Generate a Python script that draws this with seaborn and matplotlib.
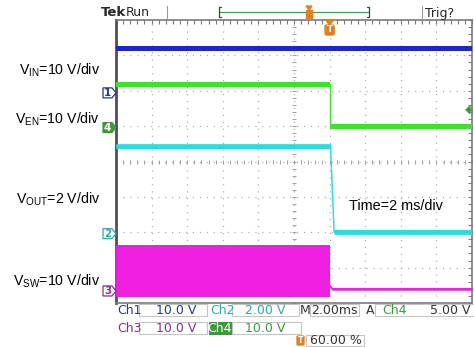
import numpy as np
import pandas as pd
import matplotlib
matplotlib.use("Agg")
import matplotlib.pyplot as plt
from matplotlib.patches import Polygon, Rectangle, FancyBboxPatch
from matplotlib.lines import Line2D
from matplotlib.transforms import blended_transform_factory
import seaborn as sns

# ---------------- data (volts vs. milliseconds, trigger at t = 0) ----------------
vin_t = [-12.0, 8.0]
vin_v = [12.5, 12.5]

ven_t = [-12.0, 0.0, 0.0, 8.0]
ven_v = [12.3, 12.3, 0.2, 0.2]

vout_t = [-12.0, 0.05, 0.25, 8.0]
vout_v = [4.95, 4.95, 0.1, 0.1]

vsw_burst_t = [-12.0, 0.0]
vsw_burst_hi = [13.0, 13.0]
vsw_burst_lo = [-1.7, -1.7]
vsw_t = [0.0, 0.15, 8.0]
vsw_v = [1.5, 0.6, 0.6]

# channel settings
ch_names = ["Ch1", "Ch2", "Ch3", "Ch4"]
ch_volts_per_div = [10.0, 2.0, 10.0, 10.0]
ch_ground_div = [5.94, 1.96, 0.34, 4.96]
trig_level_v = 5.0          # on Ch4
trig_pos_pct = 60.0
time_per_div_ms = 2.0
ch_labels = [r"V$_{\mathregular{IN}}$=10 V/div", r"V$_{\mathregular{EN}}$=10 V/div",
             r"V$_{\mathregular{OUT}}$=2 V/div", r"V$_{\mathregular{SW}}$=10 V/div"]
time_label = "Time=2 ms/div"

# ---------------- styling ----------------
sns.set_style("white")
plt.rcParams["font.family"] = ["DejaVu Sans"]
plt.rcParams["lines.scale_dashes"] = False

col_ch1 = "#1a28c8"
col_ch2 = "#2adbe0"
col_ch3 = "#f01ee0"
col_ch4 = "#3ce22e"
txt_ch1 = "#2a3a7a"
txt_ch2 = "#3aa4aa"
txt_ch3 = "#8a2f8a"
txt_ch4 = "#3a9a3a"
orange = "#e2801e"

W, H = 474, 347
fig = plt.figure(figsize=(W / 100, H / 100), dpi=100)
fig.patch.set_facecolor("white")


def fx(x):
    return x / W


def fy(y):
    return 1 - y / H


# graticule window in pixels
L, R, T, B = 116, 472, 20, 303
ax = fig.add_axes([fx(L), fy(B), (R - L) / W, (B - T) / H])
t0 = -trig_pos_pct / 100 * 10 * time_per_div_ms
ax.set_xlim(t0, t0 + 10 * time_per_div_ms)
ax.set_ylim(0, 8)
ax.set_facecolor("white")

# graticule
grid_kw = dict(color="#a8a8a8", lw=0.9, dashes=(0.8, 4.2), zorder=1)
for k in range(1, 10):
    ax.axvline(t0 + k * time_per_div_ms, **grid_kw)
for k in range(1, 8):
    ax.axhline(k, **grid_kw)
xc = t0 + 5 * time_per_div_ms
cx = np.arange(t0, t0 + 10 * time_per_div_ms + 0.01, time_per_div_ms / 5)
cy = np.arange(0, 8.01, 0.2)
ax.plot(cx, np.full_like(cx, 4.0), ls="", marker="|", ms=3.5, mew=0.7, color="#a0a0a0", zorder=1)
ax.plot(np.full_like(cy, xc), cy, ls="", marker="_", ms=3.5, mew=0.7, color="#a0a0a0", zorder=1)

ax.xaxis.set_major_locator(plt.MultipleLocator(time_per_div_ms))
ax.xaxis.set_minor_locator(plt.MultipleLocator(time_per_div_ms / 5))
ax.yaxis.set_major_locator(plt.MultipleLocator(1))
ax.yaxis.set_minor_locator(plt.MultipleLocator(0.2))
ax.tick_params(which="both", direction="in", length=3, width=0.8, color="#7a7a7a",
               top=True, right=True, labelbottom=False, labelleft=False)
for s in ax.spines.values():
    s.set_color("#7a7a7a")
    s.set_linewidth(1.2)
ax.spines["left"].set_color("#505050")
ax.spines["left"].set_linewidth(2.0)


def to_div(ch, volts):
    i = ch_names.index(ch)
    return ch_ground_div[i] + np.asarray(volts, dtype=float) / ch_volts_per_div[i]


def draw_trace(ch, t, v, color, half):
    y = to_div(ch, v)
    ax.fill_between(t, y - half, y + half, color=color, lw=0, zorder=3)
    df = pd.DataFrame({"t": t, "y": y})
    sns.lineplot(data=df, x="t", y="y", color=color, lw=1.0, sort=False,
                 estimator=None, ax=ax, zorder=3)


draw_trace("Ch1", vin_t, vin_v, col_ch1, 0.065)
draw_trace("Ch4", ven_t, ven_v, col_ch4, 0.07)
draw_trace("Ch2", vout_t, vout_v, col_ch2, 0.07)
ax.fill_between(vsw_burst_t, to_div("Ch3", vsw_burst_lo), to_div("Ch3", vsw_burst_hi),
                color=col_ch3, lw=0, zorder=3)
draw_trace("Ch3", vsw_t, vsw_v, col_ch3, 0.04)
ax.set_xlabel("")
ax.set_ylabel("")

# ground reference markers
bt = blended_transform_factory(ax.transAxes, ax.transData)
sx = 1 / (R - L)
sy = 8 / (B - T)
marker_style = {
    "Ch1": ("white", txt_ch1, txt_ch1),
    "Ch2": ("white", txt_ch2, txt_ch2),
    "Ch3": ("white", txt_ch3, txt_ch3),
    "Ch4": (txt_ch4, txt_ch4, "white"),
}
for i, ch in enumerate(ch_names):
    g = ch_ground_div[i]
    face, edge, tc = marker_style[ch]
    pts = [(-13 * sx, g + 5 * sy), (-4 * sx, g + 5 * sy), (0, g),
           (-4 * sx, g - 5 * sy), (-13 * sx, g - 5 * sy)]
    ax.add_patch(Polygon(pts, closed=True, transform=bt, clip_on=False,
                         facecolor=face, edgecolor=edge, lw=0.9, zorder=6))
    ax.text(-8.5 * sx, g, ch[-1], transform=bt, ha="center", va="center",
            fontsize=7.5, color=tc, fontweight="bold", clip_on=False, zorder=7)

# trigger level marker (right edge)
yt = to_div("Ch4", trig_level_v)
ax.add_patch(Polygon([(1 - 6 * sx, yt), (1 - 2 * sx, yt + 3.5 * sy), (1 - 2 * sx, yt - 3.5 * sy)],
                     closed=True, transform=bt, clip_on=False, color=txt_ch4, zorder=6))
ax.plot([1 - 3 * sx, 1 - 0.5 * sx], [yt, yt], transform=bt, color=txt_ch4, lw=1.2,
        clip_on=False, zorder=6)

# trigger position marker (top of graticule)
tx = L + (0 - t0) / (10 * time_per_div_ms) * (R - L)
fig.patches.append(Polygon([(fx(tx - 4), fy(20)), (fx(tx + 4), fy(20)), (fx(tx), fy(25))],
                           closed=True, transform=fig.transFigure, color=orange, zorder=8))
fig.patches.append(FancyBboxPatch((fx(tx - 4.5), fy(35)), 9 / W, 10 / H,
                                  boxstyle="round,pad=0,rounding_size=0.004",
                                  transform=fig.transFigure, color=orange, zorder=8))
fig.text(fx(tx), fy(30), "T", ha="center", va="center", fontsize=6.5, color="white",
         fontweight="bold", zorder=9)

# channel labels
for lab, ypx in zip(ch_labels, [70, 119, 199, 281]):
    fig.text(fx(100), fy(ypx), lab, ha="right", va="center", fontsize=10.2,
             family=["Liberation Sans", "DejaVu Sans"], color="black")
fig.text(fx(349), fy(206), time_label, ha="left", va="center", fontsize=10.4,
         family=["Liberation Sans", "DejaVu Sans"], color="black")

# status bar
fig.text(fx(101), fy(13), "Tek", ha="left", va="center", fontsize=9.5, fontweight="bold")
fig.text(fx(126), fy(13), "Run", ha="left", va="center", fontsize=9)
fig.text(fx(425), fy(13), "Trig?", ha="left", va="center", fontsize=9)


def fline(xs, ys, **kw):
    fig.lines.append(Line2D([fx(x) for x in xs], [fy(y) for y in ys],
                            transform=fig.transFigure, **kw))


fline([167, 167], [6, 18], color="#9a9a9a", lw=0.8)
fline([422, 422], [6, 18], color="#9a9a9a", lw=0.8)
fline([219, 369], [12, 12], color="#4a9a4a", lw=0.9)
fline([221, 219, 219, 221], [7, 7, 17, 17], color="#404040", lw=0.9)
fline([367, 369, 369, 367], [7, 7, 17, 17], color="#404040", lw=0.9)
tpx = 219 + trig_pos_pct / 100 * (369 - 219)
fig.patches.append(Polygon([(fx(tpx - 3), fy(6)), (fx(tpx + 3), fy(6)), (fx(tpx), fy(10))],
                           closed=True, transform=fig.transFigure, color=orange, zorder=8))
fig.patches.append(Rectangle((fx(tpx - 3), fy(18)), 6 / W, 8 / H,
                             transform=fig.transFigure, color=orange, zorder=8))

# readouts


def box(x0, y0, x1, y1, face="white", edge="#c4c4c4"):
    fig.patches.append(Rectangle((fx(x0), fy(y1)), (x1 - x0) / W, (y1 - y0) / H,
                                 transform=fig.transFigure, facecolor=face,
                                 edgecolor=edge, lw=0.8, zorder=4))


rt = dict(va="center", fontsize=9, zorder=6)
box(139, 304, 207, 316)
box(232, 304, 299, 316)
box(310, 304, 359, 316)
box(375, 304, 474, 316)
box(139, 322, 207, 334)
box(232, 322, 301, 334)
box(209, 322, 231, 334, face=txt_ch4, edge=txt_ch4)
box(306, 335, 364, 346)

fig.text(fx(117), fy(310), "Ch1", color=txt_ch1, ha="left", **rt)
fig.text(fx(176), fy(310), f"{ch_volts_per_div[0]:.1f} V", color=txt_ch1, ha="center", **rt)
fig.text(fx(210), fy(310), "Ch2", color=txt_ch2, ha="left", **rt)
fig.text(fx(265), fy(310), f"{ch_volts_per_div[1]:.2f} V", color=txt_ch2, ha="center", **rt)
fig.text(fx(300), fy(310), "M", color="#333333", ha="left", **rt)
fig.text(fx(334), fy(310), f"{time_per_div_ms:.2f}ms", color="#333333", ha="center", **rt)
fig.text(fx(366), fy(310), "A", color="#333333", ha="left", **rt)
fig.text(fx(382), fy(310), "Ch4", color=txt_ch4, ha="left", **rt)
fline([410, 413, 417], [306, 306, 314], color="#333333", lw=1.1)
fig.text(fx(471), fy(310), f"{trig_level_v:.2f} V", color="#333333", ha="right", **rt)
fig.text(fx(117), fy(328), "Ch3", color=txt_ch3, ha="left", **rt)
fig.text(fx(176), fy(328), f"{ch_volts_per_div[2]:.1f} V", color=txt_ch3, ha="center", **rt)
fig.text(fx(220), fy(328), "Ch4", color="white", ha="center", **rt)
fig.text(fx(265), fy(328), f"{ch_volts_per_div[3]:.1f} V", color=txt_ch4, ha="center", **rt)
fig.patches.append(FancyBboxPatch((fx(297), fy(345)), 7 / W, 9 / H,
                                  boxstyle="round,pad=0,rounding_size=0.003",
                                  transform=fig.transFigure, color=orange, zorder=8))
fig.text(fx(300.5), fy(340.5), "T", ha="center", va="center", fontsize=5.5, color="white",
         fontweight="bold", zorder=9)
fig.text(fx(310), fy(340.5), f"{trig_pos_pct:.2f} %", color="#333333", ha="left", **rt)

fig.savefig("out.png", dpi=100, facecolor="white")
